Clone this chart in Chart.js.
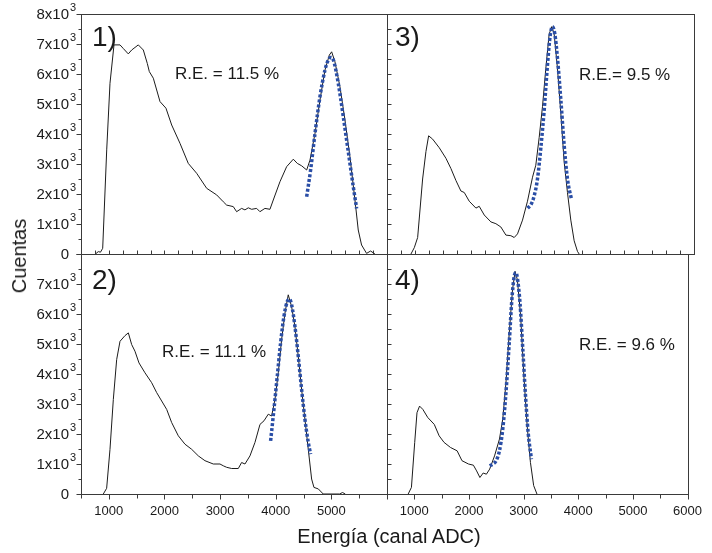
<!DOCTYPE html>
<html>
<head>
<meta charset="utf-8">
<script src="https://cdn.jsdelivr.net/npm/chart.js@4.4.0/dist/chart.umd.min.js"></script>
<style>
  html, body { margin: 0; padding: 0; background: #fff; }
  #wrap { position: relative; width: 712px; height: 553px; overflow: hidden;
          font-family: "Liberation Sans", Arial, sans-serif; color: #1a1a1a; }
  #wrap canvas { position: absolute; left: 0; top: 0; }
  .txt { position: absolute; white-space: pre; line-height: 1; transform: translateY(-50%); }
  .title-x { position: absolute; left: 389px; top: 536px; font-size: 20px; line-height: 1;
             transform: translate(-50%, -50%); white-space: pre; }
  .title-y { position: absolute; left: 19px; top: 256px; font-size: 20px; line-height: 1;
             transform: translate(-50%, -50%) rotate(-90deg); white-space: pre; }
</style>
</head>
<body>
<div id="wrap">
  <div class="txt" style="left:92px;top:37px;font-size:28px">1)</div>
  <div class="txt" style="left:395px;top:37px;font-size:28px">3)</div>
  <div class="txt" style="left:92px;top:280px;font-size:28px">2)</div>
  <div class="txt" style="left:395px;top:280px;font-size:28px">4)</div>
  <div class="txt" style="left:175px;top:73px;font-size:17px">R.E. = 11.5 %</div>
  <div class="txt" style="left:579px;top:74px;font-size:17px">R.E.= 9.5 %</div>
  <div class="txt" style="left:162px;top:351px;font-size:17px">R.E. = 11.1 %</div>
  <div class="txt" style="left:579px;top:344px;font-size:17px">R.E. = 9.6 %</div>
  <div class="title-x">Energía (canal ADC)</div>
  <div class="title-y">Cuentas</div>
</div>
<script>
// ---- Spectrum 1 (measured) and its Gaussian fit ----
const energy1 = [760, 811, 850, 890, 962, 1021, 1093, 1201, 1260, 1350, 1411, 1530, 1620, 1692, 1728, 1800,
  1920, 2027, 2130, 2279, 2428, 2579, 2759, 2938, 3058, 3118, 3237, 3297, 3387, 3447, 3507, 3567, 3657, 3716,
  3806, 3896, 3956, 4076, 4196, 4316, 4388, 4466, 4556, 4616, 4706, 4795, 4885, 4963, 5005, 5064, 5154, 5244,
  5334, 5424, 5483, 5543, 5633, 5705, 5783];
const counts1 = [0, 80, 60, 190, 3470, 5690, 6970, 6970, 6850, 6670, 6800, 6970, 6800, 6350, 6080, 5860,
  5080, 4860, 4300, 3690, 3020, 2690, 2190, 1970, 1740, 1630, 1580, 1410, 1520, 1470, 1540, 1490, 1520, 1410,
  1520, 1490, 1800, 2410, 2910, 3160, 3020, 2940, 2800, 3130, 4020, 5130, 6130, 6630, 6740, 6410, 5580, 4470,
  3240, 1800, 800, 300, 20, 100, 0];
const fitEnergy1 = [4556, 4627, 4706, 4795, 4885, 4945, 4987, 5035, 5124, 5214, 5304, 5394, 5454];
const fitCounts1 = [1910, 2800, 4020, 5240, 6130, 6470, 6550, 6470, 5690, 4580, 3410, 2240, 1520];

// ---- Spectrum 2 ----
const energy2 = [901, 961, 1021, 1081, 1141, 1201, 1291, 1351, 1411, 1470, 1542, 1650, 1770, 1860, 1950, 2040,
  2130, 2249, 2369, 2489, 2609, 2728, 2878, 2998, 3058, 3118, 3208, 3327, 3387, 3447, 3537, 3627, 3717, 3789,
  3866, 3926, 3986, 4046, 4106, 4166, 4225, 4285, 4345, 4405, 4465, 4525, 4585, 4645, 4687, 4765, 4854, 5150,
  5200, 5250];
const counts2 = [0, 190, 1490, 3150, 4480, 5090, 5280, 5370, 4980, 4760, 4370, 4040, 3710, 3380, 3100, 2820,
  2380, 1940, 1660, 1490, 1270, 1110, 1000, 1000, 940, 890, 850, 850, 1050, 1000, 1270, 1720, 2320, 2440,
  2660, 2600, 3150, 4040, 5150, 6030, 6640, 6250, 5590, 4590, 3490, 2490, 1490, 500, 220, 170, 0, 0,
  50, 0];
const fitEnergy2 = [3908, 3968, 4028, 4088, 4148, 4208, 4244, 4285, 4345, 4405, 4465, 4525, 4585, 4627];
const fitCounts2 = [1770, 2820, 3930, 5040, 5920, 6420, 6500, 6310, 5590, 4590, 3490, 2490, 1720, 1330];

// ---- Spectrum 3 ----
const energy3 = [929, 989, 1049, 1138, 1198, 1246, 1317, 1437, 1556, 1645, 1735, 1824, 1884, 1973, 2093, 2152,
  2242, 2361, 2451, 2540, 2630, 2719, 2779, 2838, 2928, 3017, 3107, 3166, 3226, 3286, 3345, 3405, 3453, 3495,
  3554, 3614, 3673, 3733, 3793, 3853, 3912, 3942];
const counts3 = [0, 210, 550, 2500, 3420, 3940, 3830, 3540, 3190, 2850, 2450, 2100, 2050, 1760, 1530, 1590,
  1300, 1070, 1010, 900, 630, 610, 550, 670, 1130, 1760, 2560, 2960, 3880, 4920, 6180, 7330, 7580, 7330,
  6180, 4690, 3080, 2050, 1130, 440, 90, 0];
const fitEnergy3 = [3017, 3077, 3136, 3196, 3256, 3316, 3375, 3423, 3465, 3507, 3554, 3614, 3673, 3733, 3805];
const fitCounts3 = [1530, 1640, 1930, 2500, 3540, 4800, 6300, 7270, 7580, 7330, 6530, 5150, 3650, 2500, 1820];

// ---- Spectrum 4 ----
const energy4 = [888, 947, 1007, 1049, 1096, 1156, 1246, 1365, 1454, 1544, 1663, 1783, 1872, 1991, 2081, 2140,
  2200, 2260, 2319, 2379, 2468, 2558, 2618, 2677, 2737, 2797, 2844, 2886, 2946, 3005, 3065, 3125, 3184, 3244];
const counts4 = [0, 220, 1720, 2710, 2930, 2820, 2550, 2320, 1940, 1720, 1550, 1440, 1110, 1000, 960, 770,
  550, 700, 660, 830, 1270, 1830, 2490, 3710, 5370, 6810, 7420, 7140, 5920, 3930, 2270, 1050, 280, 0];
const fitEnergy4 = [2379, 2439, 2498, 2558, 2618, 2677, 2737, 2785, 2827, 2856, 2886, 2934, 2982, 3035, 3083, 3143];
const fitCounts4 = [940, 1000, 1110, 1440, 2160, 3380, 5040, 6480, 7250, 7380, 7200, 6370, 4930, 3270, 2050, 1160];

// ---- Axis tick labels ----
const xLabelsLeft = [1000, 2000, 3000, 4000, 5000];
const xLabelsRight = [1000, 2000, 3000, 4000, 5000, 6000];
const yLabelValuesTop = [0, 1000, 2000, 3000, 4000, 5000, 6000, 7000, 8000];
const yLabelValuesBottom = [0, 1000, 2000, 3000, 4000, 5000, 6000, 7000];

const FONT = '"Liberation Sans", Arial, sans-serif';
const LINE = '#1c1c1c';
const FIT = '#2a4ea6';
const FRAME = '#3a3a3a';
const X_AXIS_H = 30;

// Frame, tick marks and y labels (mantissa with raised exponent)
const framePlugin = {
  id: 'frame',
  afterDraw(chart, args, o) {
    const { ctx, chartArea: a, scales: { x, y } } = chart;
    const L = Math.round(a.left) + 0.5, R = Math.round(a.right) + 0.5;
    const T = Math.round(a.top) + 0.5, B = Math.round(a.bottom) + 0.5;
    ctx.save();
    ctx.strokeStyle = FRAME;
    ctx.lineWidth = 1;
    ctx.strokeRect(L, T, R - L, B - T);
    ctx.beginPath();
    y.ticks.forEach(t => {
      const py = Math.round(y.getPixelForValue(t.value)) + 0.5;
      const major = t.value % 1000 === 0;
      if (o.left === 'out') { const len = major ? 5 : 3; ctx.moveTo(L - len, py); ctx.lineTo(L, py); }
      else { ctx.moveTo(L, py); ctx.lineTo(L + 4, py); }
    });
    x.ticks.forEach(t => {
      const px = Math.round(x.getPixelForValue(t.value)) + 0.5;
      if (o.bottom === 'in') { ctx.moveTo(px, B); ctx.lineTo(px, B - 4); }
      else { const len = t.value % 1000 === 0 ? 5 : 4; ctx.moveTo(px, B); ctx.lineTo(px, B + len); }
    });
    ctx.stroke();
    if (o.yLabels) {
      ctx.fillStyle = '#1a1a1a';
      ctx.textBaseline = 'middle';
      o.yLabels.forEach(v => {
        const py = y.getPixelForValue(v);
        ctx.font = '15px ' + FONT;
        ctx.textAlign = 'right';
        if (v === 0) { ctx.fillText('0', 69, py + 1); return; }
        ctx.fillText((v / 1000) + 'x10', 69, py + 1);
        ctx.font = '11px ' + FONT;
        ctx.textAlign = 'left';
        ctx.fillText('3', 70, py - 6);
      });
    }
    ctx.restore();
  }
};

const toPoints = (xs, ys) => xs.map((v, i) => ({ x: v, y: ys[i] }));

const panels = [
  { rect: [81, 14, 387, 254], e: energy1, c: counts1, fe: fitEnergy1, fc: fitCounts1,
    left: 'out', bottom: 'in', yLabels: yLabelValuesTop, xLabels: null },
  { rect: [387, 14, 694, 254], e: energy3, c: counts3, fe: fitEnergy3, fc: fitCounts3,
    left: 'in', bottom: 'in', yLabels: null, xLabels: null },
  { rect: [81, 254, 387, 494], e: energy2, c: counts2, fe: fitEnergy2, fc: fitCounts2,
    left: 'out', bottom: 'out', yLabels: yLabelValuesBottom, xLabels: xLabelsLeft },
  { rect: [387, 254, 694, 494], e: energy4, c: counts4, fe: fitEnergy4, fc: fitCounts4,
    left: 'in', bottom: 'out', yLabels: null, xLabels: xLabelsRight }
];

const wrap = document.getElementById('wrap');
panels.forEach(p => {
  const canvas = document.createElement('canvas');
  canvas.width = 712;
  canvas.height = 553;
  wrap.insertBefore(canvas, wrap.firstChild);
  const showX = p.xLabels !== null;
  new Chart(canvas, {
    type: 'line',
    data: {
      datasets: [
        { data: toPoints(p.fe, p.fc), borderColor: FIT, borderWidth: 3.5, borderDash: [3, 2],
          pointRadius: 0, cubicInterpolationMode: 'monotone', fill: false },
        { data: toPoints(p.e, p.c), borderColor: LINE, borderWidth: 1, pointRadius: 0,
          tension: 0, fill: false }
      ]
    },
    options: {
      responsive: false,
      animation: false,
      devicePixelRatio: 1,
      events: [],
      layout: { padding: { left: p.rect[0], top: p.rect[1], right: 712 - p.rect[2],
                           bottom: 553 - p.rect[3] - (showX ? X_AXIS_H : 0) } },
      plugins: { legend: { display: false }, tooltip: { enabled: false },
                 frame: { left: p.left, bottom: p.bottom, yLabels: p.yLabels } },
      scales: {
        x: {
          type: 'linear', min: 500, max: 6000,
          grid: { display: false, drawTicks: false }, border: { display: false },
          ticks: { display: showX, stepSize: showX ? 500 : 250, autoSkip: false, maxRotation: 0,
                   padding: 10, color: '#1a1a1a', font: { family: FONT, size: 13 },
                   callback: v => (showX && p.xLabels.includes(v)) ? String(v) : '' },
          afterFit: s => { if (showX) s.height = X_AXIS_H; }
        },
        y: {
          type: 'linear', min: 0, max: 8000,
          grid: { display: false, drawTicks: false }, border: { display: false },
          ticks: { display: false, stepSize: 500 }
        }
      }
    },
    plugins: [framePlugin]
  });
});
</script>
</body>
</html>
